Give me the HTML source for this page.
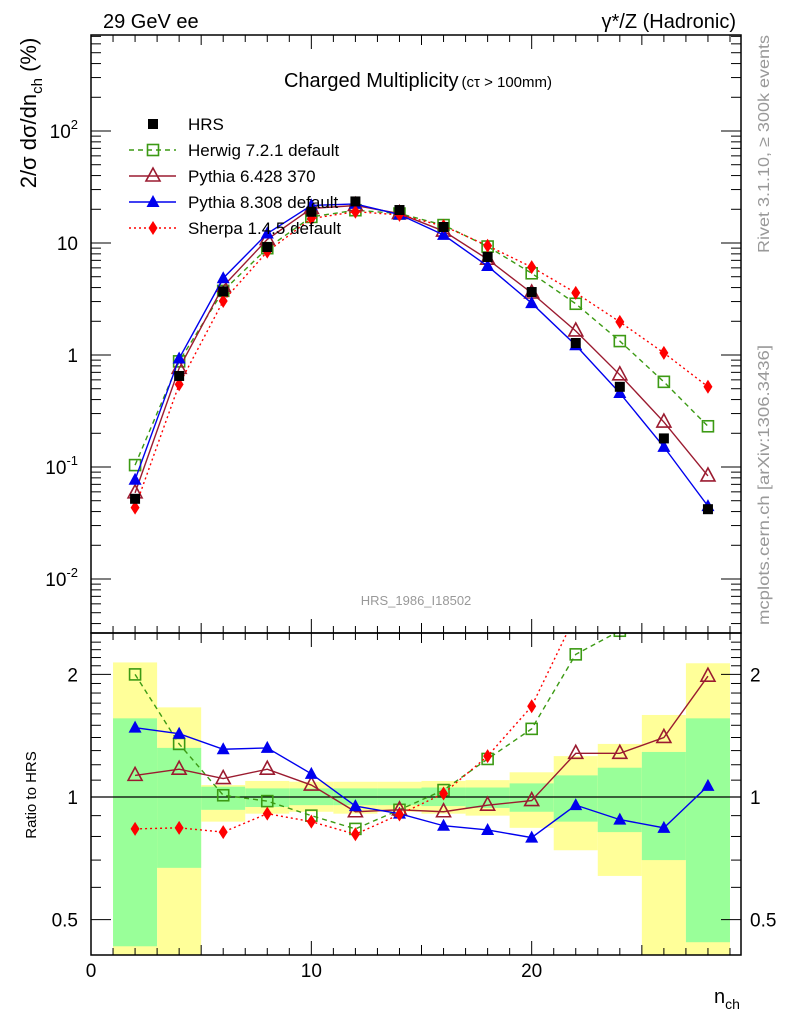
<!DOCTYPE html>
<html><head><meta charset="utf-8"><style>
body{margin:0;background:#fff;}
svg{display:block;font-family:"Liberation Sans",sans-serif;}
</style></head><body>
<svg id="chart" width="786" height="1024" viewBox="0 0 786 1024" xmlns="http://www.w3.org/2000/svg">
<defs>
<clipPath id="cm"><rect x="91" y="35" width="650" height="598"/></clipPath>
<clipPath id="cr"><rect x="91" y="633" width="650" height="322"/></clipPath>
</defs>
<g id="bands" clip-path="url(#cr)"></g>
<g id="ratio" clip-path="url(#cr)"></g>
<g id="main" clip-path="url(#cm)"></g>
<g id="axes"></g>
<text x="103" y="28" font-size="20">29 GeV ee</text>
<text x="736" y="28" font-size="20" text-anchor="end">γ*/Z (Hadronic)</text>
<text x="418" y="87" font-size="20" text-anchor="middle">Charged Multiplicity<tspan font-size="15" dx="3">(cτ &gt; 100mm)</tspan></text>
<text x="416" y="605" font-size="13" fill="#999" text-anchor="middle">HRS_1986_I18502</text>
<text transform="translate(769,35) rotate(-90)" font-size="16" fill="#999" text-anchor="end" textLength="218" lengthAdjust="spacingAndGlyphs">Rivet 3.1.10, ≥ 300k events</text>
<text transform="translate(769,625) rotate(-90)" font-size="16" fill="#999" textLength="280" lengthAdjust="spacingAndGlyphs">mcplots.cern.ch [arXiv:1306.3436]</text>
<text transform="translate(36,113) rotate(-90)" font-size="22" text-anchor="middle">2/σ dσ/dn<tspan font-size="15" dy="6">ch</tspan><tspan dy="-6"> (%)</tspan></text>
<text transform="translate(36,795) rotate(-90)" font-size="15" text-anchor="middle">Ratio to HRS</text>
<text x="714" y="1003" font-size="20">n<tspan font-size="14" dy="6">ch</tspan></text>
<g id="legend"></g>
</svg>
<script>
const nch=[2,4,6,8,10,12,14,16,18,20,22,24,26,28];
const hrs=[0.052,0.65,3.7,9.2,19,23.5,19.7,13.9,7.5,3.65,1.28,0.52,0.18,0.042];
const herwigRatio=[2.0,1.35,1.01,0.977,0.9,0.835,0.93,1.04,1.24,1.47,2.24,2.56,3.2,5.5];
const py6Ratio=[1.13,1.17,1.11,1.17,1.07,0.92,0.93,0.92,0.955,0.98,1.28,1.28,1.40,1.98];
const py8Ratio=[1.48,1.43,1.31,1.32,1.14,0.95,0.91,0.85,0.83,0.795,0.955,0.88,0.84,1.065];
const sherpaRatio=[0.835,0.84,0.82,0.91,0.87,0.81,0.906,1.02,1.26,1.67,2.8,3.8,5.8,12.4];
const binLo=[1,3,5,7,9,11,13,15,17,19,21,23,25,27];
const binHi=[3,5,7,9,11,13,15,17,19,21,23,25,27,29];
const yelHi=[2.14,1.66,1.07,1.095,1.09,1.09,1.09,1.095,1.1,1.15,1.26,1.35,1.59,2.13];
const grnHi=[1.56,1.32,1.06,1.05,1.05,1.05,1.05,1.055,1.055,1.08,1.13,1.18,1.29,1.56];
const grnLo=[0.43,0.67,0.93,0.945,0.955,0.955,0.955,0.95,0.94,0.92,0.87,0.82,0.70,0.44];
const yelLo=[0.3,0.3,0.87,0.91,0.92,0.91,0.92,0.91,0.9,0.84,0.74,0.64,0.41,0.3];
const xTicks=[0,10,20];
const yTicks=[-2,-1,0,1,2];
const rTicks=[0.5,1,2];

const NS="http://www.w3.org/2000/svg";
const X=n=>91+22.034*n;
const Y=v=>355-112*Math.log10(v);
const R=r=>797-122.6*Math.log2(r);
function mk(t,a,p){const e=document.createElementNS(NS,t);for(const k in a)e.setAttribute(k,a[k]);p.appendChild(e);return e;}
const g=id=>document.getElementById(id);

function marker(p,type,x,y,col){
  let e;
  if(type==='sq'){e=mk('rect',{x:x-5,y:y-5,width:10,height:10,fill:'#000'},p);}
  else if(type==='osq'){e=mk('rect',{x:x-5.5,y:y-5.5,width:11,height:11,fill:'none',stroke:col,'stroke-width':1.6},p);}
  else if(type==='otri'){e=mk('polygon',{points:`${x},${y-8} ${x-7},${y+5} ${x+7},${y+5}`,fill:'none',stroke:col,'stroke-width':1.6},p);}
  else if(type==='tri'){e=mk('polygon',{points:`${x},${y-7} ${x-6.5},${y+5} ${x+6.5},${y+5}`,fill:col},p);}
  else {e=mk('polygon',{points:`${x},${y-7} ${x-4.5},${y} ${x},${y+7} ${x+4.5},${y}`,fill:col},p);}
  return e;
}
const series=[
 {name:'herwig',ratio:herwigRatio,col:'#3c9a14',dash:'5,4',m:'osq'},
 {name:'pythia6',ratio:py6Ratio,col:'#9b1b30',dash:'',m:'otri'},
 {name:'pythia8',ratio:py8Ratio,col:'#0000ee',dash:'',m:'tri'},
 {name:'sherpa',ratio:sherpaRatio,col:'#ff0000',dash:'2,3',m:'dia'}
];
const B=g('bands');
binLo.forEach((lo,i)=>{
  const r1=mk('rect',{x:X(lo),y:R(yelHi[i]),width:X(binHi[i])-X(lo),height:R(yelLo[i])-R(yelHi[i]),fill:'#ffff99'},B);
  
  
  const r2=mk('rect',{x:X(lo),y:R(grnHi[i]),width:X(binHi[i])-X(lo),height:R(grnLo[i])-R(grnHi[i]),fill:'#99ff99'},B);
  
  
});
mk('line',{x1:91,x2:741,y1:R(1),y2:R(1),stroke:'#000','stroke-width':1.2},g('ratio'));
const M=g('main'),RA=g('ratio');
series.forEach(s=>{
  const vals=s.ratio.map((r,i)=>r*hrs[i]);
  const pl=mk('polyline',{points:nch.map((n,i)=>X(n)+','+Y(vals[i])).join(' '),fill:'none',stroke:s.col,'stroke-width':1.4,'stroke-dasharray':s.dash},M);
  
  
  const pr=mk('polyline',{points:nch.map((n,i)=>X(n)+','+R(s.ratio[i])).join(' '),fill:'none',stroke:s.col,'stroke-width':1.4,'stroke-dasharray':s.dash},RA);
  
  
  nch.forEach((n,i)=>{
    const a=marker(M,s.m,X(n),Y(vals[i]),s.col);
    
    
    const b=marker(RA,s.m,X(n),R(s.ratio[i]),s.col);
    
    
  });
});
nch.forEach((n,i)=>{
  const a=marker(M,'sq',X(n),Y(hrs[i]),'#000');
  
  
});
const A=g('axes');
mk('rect',{x:91,y:35,width:650,height:598,fill:'none',stroke:'#000','stroke-width':1.5},A);
mk('rect',{x:91,y:633,width:650,height:322,fill:'none',stroke:'#000','stroke-width':1.5},A);
for(let n=1;n<=29;n++){
  const L=(n%10===0)?14:(n%5===0?10:7);
  [[35,1],[633,-1],[633,1],[955,-1]].forEach(([y,d])=>mk('line',{x1:X(n),x2:X(n),y1:y,y2:y+d*L,stroke:'#000','stroke-width':1},A));
}
xTicks.forEach(t=>{const e=mk('text',{x:X(t),y:977,'font-size':19,'text-anchor':'middle'},A);e.textContent=t;
  });
for(let d=-3;d<=2;d++){
  for(let k=1;k<10;k++){
    const yy=Y(k*Math.pow(10,d));if(yy<35||yy>633)continue;
    const L=k===1?20:10;
    mk('line',{x1:91,x2:91+L,y1:yy,y2:yy,stroke:'#000','stroke-width':1},A);
    mk('line',{x1:741,x2:741-L,y1:yy,y2:yy,stroke:'#000','stroke-width':1},A);
  }
}
yTicks.forEach(d=>{
  const e=mk('text',{x:78,y:Y(Math.pow(10,d))+7,'font-size':19,'text-anchor':'end'},A);
  
  if(d===0)e.textContent='1';else if(d===1)e.textContent='10';
  else{e.textContent='10';const ts=mk('tspan',{'font-size':13,dy:-9},e);ts.textContent=String(d);}
});
for(let r=0.4;r<=2.5;r+=0.1){
  const yy=R(r);if(yy<633||yy>955)continue;
  const major=Math.abs(r-0.5)<1e-6||Math.abs(r-1)<1e-6||Math.abs(r-2)<1e-6;
  const L=major?20:10;
  mk('line',{x1:91,x2:91+L,y1:yy,y2:yy,stroke:'#000','stroke-width':1},A);
  mk('line',{x1:741,x2:741-L,y1:yy,y2:yy,stroke:'#000','stroke-width':1},A);
}
rTicks.forEach(r=>{
  const e=mk('text',{x:78,y:R(r)+7,'font-size':19,'text-anchor':'end'},A);e.textContent=r;
  
  const f=mk('text',{x:750,y:R(r)+7,'font-size':19},A);f.textContent=r;
  
});
const LG=g('legend');
const legItems=[['HRS',null,'sq','#000'],['Herwig 7.2.1 default','5,4','osq','#3c9a14'],['Pythia 6.428 370','','otri','#9b1b30'],['Pythia 8.308 default','','tri','#0000ee'],['Sherpa 1.4.5 default','2,3','dia','#ff0000']];
legItems.forEach((it,i)=>{
  const y=124+26*i;
  if(it[1]!==null)mk('line',{x1:129,x2:176,y1:y,y2:y,stroke:it[3],'stroke-width':1.4,'stroke-dasharray':it[1]},LG);
  marker(LG,it[2],153,y,it[3]);
  const t=mk('text',{x:188,y:y+6,'font-size':17},LG);t.textContent=it[0];
  
  
});
</script>
</body></html>
